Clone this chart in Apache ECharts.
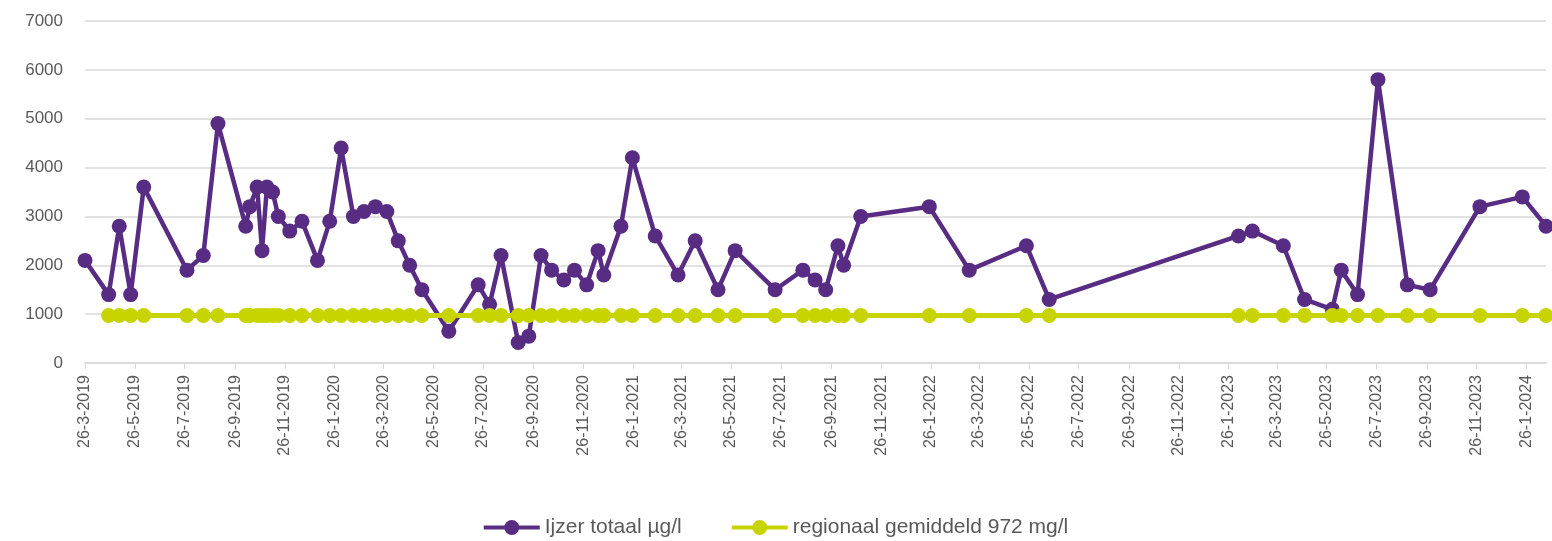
<!DOCTYPE html>
<html>
<head>
<meta charset="utf-8">
<title>Ijzer totaal</title>
<script src="https://cdn.jsdelivr.net/npm/echarts@6/dist/echarts.min.js"></script>
<style>
  html, body { margin: 0; padding: 0; background: #fff; }
  #main { width: 1552px; height: 541px; }
</style>
</head>
<body>
<div id="main"></div>
<script type="text/javascript">
// meetdata (datum, waarde)
var dates = [
  '2019-03-26','2019-04-24','2019-05-07','2019-05-21','2019-06-06','2019-07-29','2019-08-18','2019-09-05',
  '2019-10-09','2019-10-14','2019-10-23','2019-10-29','2019-11-04','2019-11-11','2019-11-18','2019-12-02',
  '2019-12-17','2020-01-05','2020-01-20','2020-02-03','2020-02-18','2020-03-02','2020-03-16','2020-03-30',
  '2020-04-13','2020-04-27','2020-05-12','2020-06-14','2020-07-20','2020-08-03','2020-08-17','2020-09-07',
  '2020-09-20','2020-10-05','2020-10-18','2020-11-02','2020-11-15','2020-11-30','2020-12-14','2020-12-21',
  '2021-01-11','2021-01-25','2021-02-22','2021-03-22','2021-04-12','2021-05-10','2021-05-31','2021-07-19',
  '2021-08-22','2021-09-06','2021-09-19','2021-10-04','2021-10-11','2021-11-01','2022-01-24','2022-03-14',
  '2022-05-23','2022-06-20','2023-02-07','2023-02-24','2023-04-03','2023-04-29','2023-06-02','2023-06-13',
  '2023-07-03','2023-07-28','2023-09-02','2023-09-30','2023-11-30','2024-01-21','2024-02-19'
];
var ijzer = [
  2100, 1400, 2800, 1400, 3600, 1900, 2200, 4900,
  2800, 3200, 3600, 2300, 3600, 3500, 3000, 2700,
  2900, 2100, 2900, 4400, 3000, 3100, 3200, 3100,
  2500, 2000, 1500, 650, 1600, 1200, 2200, 420,
  550, 2200, 1900, 1700, 1900, 1600, 2300, 1800,
  2800, 4200, 2600, 1800, 2500, 1500, 2300, 1500,
  1900, 1700, 1500, 2400, 2000, 3000, 3200, 1900,
  2400, 1300, 2600, 2700, 2400, 1300, 1100, 1900,
  1400, 5800, 1600, 1500, 3200, 3400, 2800
];
var regionaal = [
  null, 972, 972, 972, 972, 972, 972, 972,
  972, 972, 972, 972, 972, 972, 972, 972,
  972, 972, 972, 972, 972, 972, 972, 972,
  972, 972, 972, 972, 972, 972, 972, 972,
  972, 972, 972, 972, 972, 972, 972, 972,
  972, 972, 972, 972, 972, 972, 972, 972,
  972, 972, 972, 972, 972, 972, 972, 972,
  972, 972, 972, 972, 972, 972, 972, 972,
  972, 972, 972, 972, 972, 972, 972
];
// as-labels: elke 2 maanden vanaf 26-3-2019
var tickDates = [
  '2019-03-26','2019-05-26','2019-07-26','2019-09-26','2019-11-26','2020-01-26','2020-03-26','2020-05-26',
  '2020-07-26','2020-09-26','2020-11-26','2021-01-26','2021-03-26','2021-05-26','2021-07-26','2021-09-26',
  '2021-11-26','2022-01-26','2022-03-26','2022-05-26','2022-07-26','2022-09-26','2022-11-26','2023-01-26',
  '2023-03-26','2023-05-26','2023-07-26','2023-09-26','2023-11-26','2024-01-26'
];
var serieNamen = ['Ijzer totaal µg/l', 'regionaal gemiddeld 972 mg/l'];
var kleuren = ['#582C83', '#C8D400'];

function ts(s) {
  var p = s.split('-');
  return new Date(+p[0], +p[1] - 1, +p[2]).getTime();
}
var tickTs = tickDates.map(ts);

// legenda-icoon: dikke lijn met bolletje
var legIcon = 'path://M0,5.5 L56,5.5 L56,9.5 L0,9.5 Z M20.5,7.5 A7.5,7.5 0 1,1 35.5,7.5 A7.5,7.5 0 1,1 20.5,7.5 Z';

var myChart = echarts.init(document.getElementById('main'));

var option = {
  animation: false,
  backgroundColor: '#fff',
  color: kleuren,
  textStyle: { fontFamily: 'Liberation Sans' },
  grid: { left: 85, right: 6, top: 21, bottom: 178 },
  legend: {
    data: [
      { name: serieNamen[0], icon: legIcon },
      { name: serieNamen[1], icon: legIcon }
    ],
    top: 512,
    left: 'center',
    itemWidth: 56,
    itemHeight: 15,
    itemGap: 50,
    textStyle: { fontSize: 21, color: '#595959' }
  },
  xAxis: {
    type: 'value',
    min: ts(dates[0]),
    max: ts(dates[dates.length - 1]),
    axisLine: { lineStyle: { color: '#d9d9d9', width: 1.5 } },
    axisTick: { show: true, length: 6, lineStyle: { color: '#d9d9d9' }, customValues: tickTs },
    splitLine: { show: false },
    axisLabel: {
      customValues: tickTs,
      rotate: 90,
      margin: 12,
      color: '#595959',
      fontSize: 16,
      hideOverlap: false,
      formatter: function (v) {
        var d = new Date(v);
        return d.getDate() + '-' + (d.getMonth() + 1) + '-' + d.getFullYear();
      }
    }
  },
  yAxis: {
    type: 'value',
    min: 0,
    max: 7000,
    interval: 1000,
    axisLine: { show: false },
    axisTick: { show: false },
    splitLine: { lineStyle: { color: '#d9d9d9', width: 1.5 } },
    axisLabel: {
      color: '#595959',
      fontSize: 17,
      margin: 22,
      formatter: function (v) { return String(v); }
    }
  },
  series: [
    {
      name: serieNamen[0],
      type: 'line',
      data: dates.map(function (d, i) { return [ts(d), ijzer[i]]; }),
      symbol: 'circle',
      symbolSize: 15,
      lineStyle: { width: 4.5, color: kleuren[0] },
      itemStyle: { color: kleuren[0] },
      z: 2
    },
    {
      name: serieNamen[1],
      type: 'line',
      data: dates.map(function (d, i) { return [ts(d), regionaal[i]]; }),
      symbol: 'circle',
      symbolSize: 15,
      lineStyle: { width: 5, color: kleuren[1] },
      itemStyle: { color: kleuren[1] },
      z: 3
    }
  ]
};

myChart.setOption(option);
window.addEventListener('resize', function () { myChart.resize(); });
</script>
</body>
</html>
